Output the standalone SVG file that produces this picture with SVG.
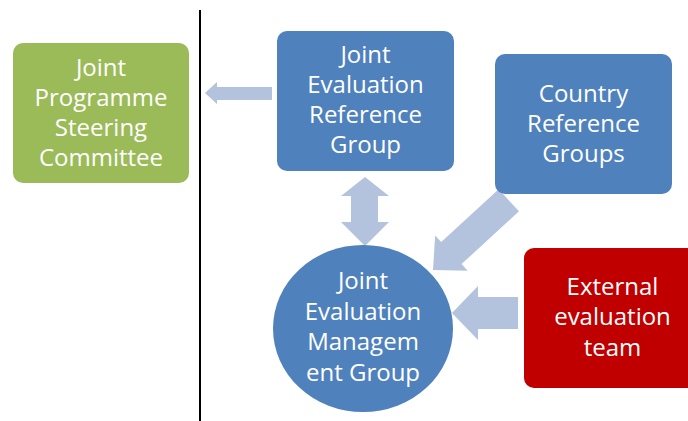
<svg xmlns="http://www.w3.org/2000/svg" width="688" height="421" viewBox="0 0 688 421">
<style>
.t{font-family:"Open Sans","Liberation Sans",sans-serif;font-size:24px;fill:#fff;text-anchor:middle}
.arr{fill:#B3C3DE}
</style>
<rect width="688" height="421" fill="#fff"/>
<line x1="200" y1="10" x2="200" y2="421" stroke="#000" stroke-width="2"/>
<g id="connectors">
<polygon class="arr" points="205,93 217,82 217,87 272,87 272,100 217,100 217,104"/>
<polygon class="arr" points="365,177 389,196 378,196 378,222 389,222 365,246 341,222 351,222 351,196 341,196"/>
<polygon class="arr" transform="translate(433,270) rotate(137.4)" points="0,0 -25,-24 -25,-15 -103,-15 -103,15 -25,15 -25,24"/>
<polygon class="arr" points="452,313 478,286 478,297 518,297 518,329 478,329 478,340"/>
</g>
<g id="jpsc">
<rect x="13" y="43" width="176" height="140" rx="10" fill="#9BBB59"/>
<text class="t" x="101" y="76">Joint</text>
<text class="t" x="101" y="106">Programme</text>
<text class="t" x="101" y="136">Steering</text>
<text class="t" x="101" y="166">Committee</text>
</g>
<g id="jerg">
<rect x="277" y="31" width="177" height="140" rx="10" fill="#4F81BD"/>
<text class="t" x="365.5" y="63">Joint</text>
<text class="t" x="365.5" y="93">Evaluation</text>
<text class="t" x="365.5" y="123">Reference</text>
<text class="t" x="365.5" y="153">Group</text>
</g>
<g id="crg">
<rect x="495" y="54" width="177" height="140" rx="10" fill="#4F81BD"/>
<text class="t" x="583.5" y="102">Country</text>
<text class="t" x="583.5" y="132">Reference</text>
<text class="t" x="583.5" y="162">Groups</text>
</g>
<g id="jemg">
<ellipse cx="363" cy="328.5" rx="90" ry="83.5" fill="#4F81BD"/>
<text class="t" x="363" y="289">Joint</text>
<text class="t" x="363" y="320">Evaluation</text>
<text class="t" x="363" y="350">Managem</text>
<text class="t" x="363" y="381">ent Group</text>
</g>
<g id="eet">
<rect x="524" y="248" width="177" height="140" rx="10" fill="#C00000"/>
<text class="t" x="612.5" y="295">External</text>
<text class="t" x="612.5" y="325">evaluation</text>
<text class="t" x="612.5" y="356">team</text>
</g>
</svg>
